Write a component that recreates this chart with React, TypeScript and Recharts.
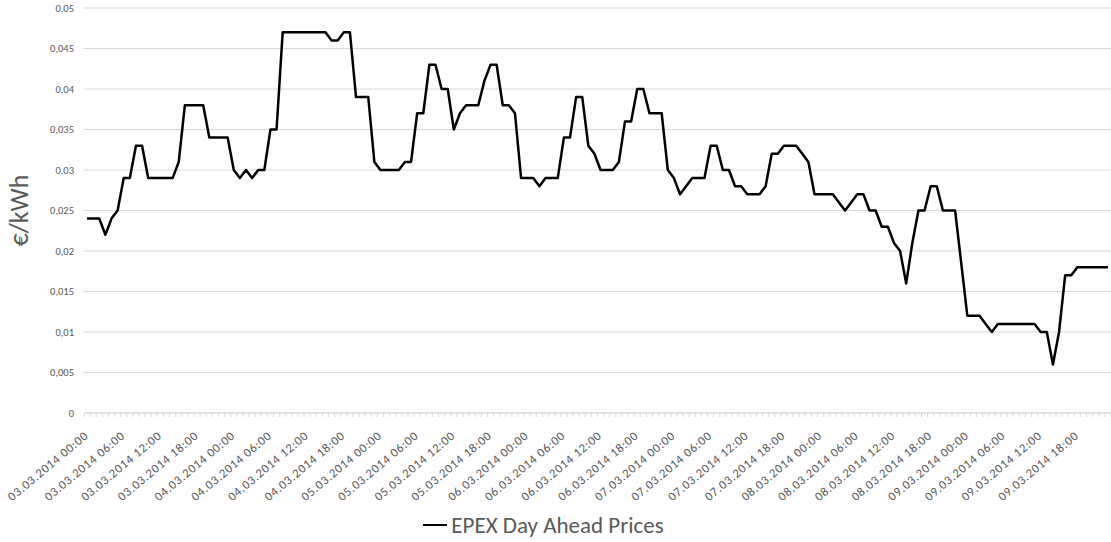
import { LineChart, Line, XAxis, YAxis, CartesianGrid, Legend } from "recharts";

const days = [
  "03.03.2014",
  "04.03.2014",
  "05.03.2014",
  "06.03.2014",
  "07.03.2014",
  "08.03.2014",
  "09.03.2014",
];

const hours = [
  "00:00", "01:00", "02:00", "03:00", "04:00", "05:00", "06:00", "07:00",
  "08:00", "09:00", "10:00", "11:00", "12:00", "13:00", "14:00", "15:00",
  "16:00", "17:00", "18:00", "19:00", "20:00", "21:00", "22:00", "23:00",
];

// EPEX day ahead prices, hourly, €/kWh
const prices = [
  // 03.03
  0.024, 0.024, 0.024, 0.022, 0.024, 0.025, 0.029, 0.029, 0.033, 0.033, 0.029, 0.029,
  0.029, 0.029, 0.029, 0.031, 0.038, 0.038, 0.038, 0.038, 0.034, 0.034, 0.034, 0.034,
  // 04.03
  0.030, 0.029, 0.030, 0.029, 0.030, 0.030, 0.035, 0.035, 0.047, 0.047, 0.047, 0.047,
  0.047, 0.047, 0.047, 0.047, 0.046, 0.046, 0.047, 0.047, 0.039, 0.039, 0.039, 0.031,
  // 05.03
  0.030, 0.030, 0.030, 0.030, 0.031, 0.031, 0.037, 0.037, 0.043, 0.043, 0.040, 0.040,
  0.035, 0.037, 0.038, 0.038, 0.038, 0.041, 0.043, 0.043, 0.038, 0.038, 0.037, 0.029,
  // 06.03
  0.029, 0.029, 0.028, 0.029, 0.029, 0.029, 0.034, 0.034, 0.039, 0.039, 0.033, 0.032,
  0.030, 0.030, 0.030, 0.031, 0.036, 0.036, 0.040, 0.040, 0.037, 0.037, 0.037, 0.030,
  // 07.03
  0.029, 0.027, 0.028, 0.029, 0.029, 0.029, 0.033, 0.033, 0.030, 0.030, 0.028, 0.028,
  0.027, 0.027, 0.027, 0.028, 0.032, 0.032, 0.033, 0.033, 0.033, 0.032, 0.031, 0.027,
  // 08.03
  0.027, 0.027, 0.027, 0.026, 0.025, 0.026, 0.027, 0.027, 0.025, 0.025, 0.023, 0.023,
  0.021, 0.020, 0.016, 0.021, 0.025, 0.025, 0.028, 0.028, 0.025, 0.025, 0.025, 0.0185,
  // 09.03
  0.012, 0.012, 0.012, 0.011, 0.010, 0.011, 0.011, 0.011, 0.011, 0.011, 0.011, 0.011,
  0.010, 0.010, 0.006, 0.010, 0.017, 0.017, 0.018, 0.018, 0.018, 0.018, 0.018, 0.018,
];

const yTicks = [0, 0.005, 0.01, 0.015, 0.02, 0.025, 0.03, 0.035, 0.04, 0.045, 0.05];

const timestamps = days.flatMap((d) => hours.map((h) => `${d} ${h}`));
const data = timestamps.map((t, i) => ({ time: t, price: prices[i] }));

const FONT = "Carlito, Calibri, 'Open Sans', sans-serif";
const GREY = "#595959";
const W = 1111;
const H = 542;
const Y_AXIS_W = 84;
const STEP = (W - Y_AXIS_W) / data.length;

const fmt = (v: number) => String(v).replace(".", ",");

function HourTick(props: any) {
  const { x, y, payload, index } = props;
  const i = payload?.index ?? index;
  const half = STEP / 2;
  const tx = x + 2;
  const ty = y + 24;
  return (
    <g>
      <line x1={x - half} y1={y} x2={x - half} y2={y + 4} stroke="#d9d9d9" />
      {i === data.length - 1 && (
        <line x1={x + half} y1={y} x2={x + half} y2={y + 4} stroke="#d9d9d9" />
      )}
      {i % 6 === 0 && (
        <text
          x={tx}
          y={ty}
          transform={`rotate(-40, ${tx}, ${ty})`}
          textAnchor="end"
          fontSize={12.5}
          letterSpacing={0.75}
          fill={GREY}
          fontFamily={FONT}
        >
          {payload.value}
        </text>
      )}
    </g>
  );
}

function LegendContent() {
  return (
    <div
      style={{
        display: "flex",
        justifyContent: "center",
        alignItems: "center",
        boxSizing: "border-box",
        height: 42,
        paddingTop: 8,
        paddingRight: 24,
        fontFamily: FONT,
      }}
    >
      <span style={{ display: "inline-block", width: 24, height: 2.5, background: "#000", marginRight: 4 }} />
      <span style={{ fontSize: 23, color: GREY }}>EPEX Day Ahead Prices</span>
    </div>
  );
}

export default function App() {
  return (
    <div style={{ position: "absolute", left: 0, top: 0, width: W, height: H, background: "#fff" }}>
      <LineChart width={W} height={H} data={data} margin={{ top: 8, right: 0, left: 0, bottom: 0 }}>
        <CartesianGrid vertical={false} stroke="#d9d9d9" />
        <XAxis
          dataKey="time"
          interval={0}
          padding={{ left: STEP / 2, right: STEP / 2 }}
          height={87}
          tickLine={false}
          tickSize={0}
          tickMargin={0}
          stroke="#d9d9d9"
          tick={<HourTick />}
        />
        <YAxis
          width={Y_AXIS_W}
          domain={[0, 0.05]}
          ticks={yTicks}
          tickFormatter={fmt}
          axisLine={false}
          tickLine={false}
          tickMargin={4}
          tick={{ fontSize: 10.5, fill: GREY, fontFamily: FONT }}
          label={({ viewBox }: any) => {
            const cx = viewBox.x + 19;
            const cy = viewBox.y + viewBox.height / 2;
            return (
              <text
                x={cx}
                y={cy}
                transform={`rotate(-90, ${cx}, ${cy})`}
                textAnchor="middle"
                dominantBaseline="central"
                fontSize={26}
                fill={GREY}
                fontFamily={FONT}
              >
                €/kWh
              </text>
            );
          }}
        />
        <Legend verticalAlign="bottom" height={42} content={<LegendContent />} />
        <Line
          type="linear"
          dataKey="price"
          stroke="#000"
          strokeWidth={2.5}
          strokeLinejoin="round"
          dot={false}
          activeDot={false}
          isAnimationActive={false}
        />
      </LineChart>
    </div>
  );
}
